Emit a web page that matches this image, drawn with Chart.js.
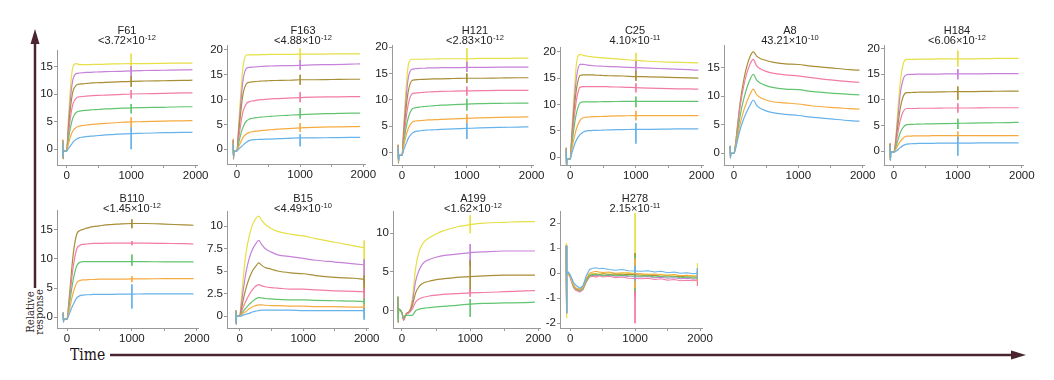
<!DOCTYPE html>
<html><head><meta charset="utf-8">
<script src="https://cdn.jsdelivr.net/npm/chart.js@4.4.0/dist/chart.umd.min.js"></script>
<style>
html,body{margin:0;padding:0;background:#fff;width:1054px;height:380px;overflow:hidden;position:relative;font-family:'Liberation Sans',Arial,sans-serif}
canvas{position:absolute}
#time{position:absolute;left:70px;top:344px;font:17px 'DejaVu Serif',serif;line-height:20px;color:#1e1216;transform:scaleX(0.82);transform-origin:left center}
#rel{position:absolute;left:5px;top:303px;width:60px;height:18px;font:10.5px 'DejaVu Serif',serif;line-height:9px;text-align:center;color:#2e2428;transform:rotate(-90deg) scaleX(0.95)}
</style></head><body>
<svg width="1054" height="380" style="position:absolute;left:0;top:0">
<line x1="35" y1="288" x2="35" y2="42" stroke="#4a2530" stroke-width="2.5"/>
<polygon points="35,29 30.5,44 39.5,44" fill="#4a2530"/>
<line x1="110" y1="355" x2="1013" y2="355" stroke="#4a2530" stroke-width="2.5"/>
<polygon points="1026,355 1011,350.5 1011,359.5" fill="#4a2530"/>
</svg>
<div id="time">Time</div>
<div id="rel">Relative<br>response</div>
<script>
// ---------- data ----------
const T  = [-60,-55,-50,0,25,50,75,100,150,200,250,300,350,400,500,600,800,1000,1200,1500,1800,1950];
const TH = [-60,-55,-50,-25,0,25,50,75,100,125,150,175,200,250,300,350,400,450,500,600,700,800,900,1100,1200,1300,1400,1500,1600,1700,1800,1900,1950];
const X_TICKS = [0,500,1000,1500,2000];
const X_LABELS = [0,1000,2000];
const SPIKE_T = 1000;
const END_T = 1960;

const NAMES = ['F61','F163','H121','C25','A8','H184','B110','B15','A199','H278'];
const KD_BASE = ['<3.72×10','<4.88×10','<2.83×10','4.10×10','43.21×10','<6.06×10','<1.45×10','<4.49×10','<1.62×10','2.15×10'];
const KD_EXP  = ['-12','-12','-12','-11','-10','-12','-12','-10','-12','-11'];

const SEVEN = ['blue','orange','green','pink','brown','purple','yellow'];
const FIVE_LOW = ['blue','orange','green','pink','brown'];
const FIVE_HIGH = ['green','pink','brown','purple','yellow'];

const Y_F61  = [0,5,10,15];
const Y_F163 = [0,5,10,15,20];
const Y_H121 = [0,5,10,15,20];
const Y_C25  = [0,5,10,15,20];
const Y_A8   = [0,5,10,15];
const Y_H184 = [0,5,10,15,20];
const Y_B110 = [0,5,10,15];
const Y_B15  = [0,2.5,5,7.5,10];
const Y_A199 = [0,5,10];
const Y_H278 = [-2,-1,0,1,2];

const F61 = [
 [1.2,-1.5,-0.3,-0.3,0.1,0.5,0.9,1.3,1.8,2.1,2.2,2.3,2.35,2.4,2.5,2.6,2.75,2.85,2.9,3.0,3.05,3.05],
 [1.3,-1.5,-0.3,-0.3,0.9,1.9,2.8,3.4,4.0,4.2,4.3,4.4,4.45,4.5,4.6,4.7,4.85,4.95,5.0,5.1,5.15,5.2],
 [1.4,-1.6,-0.3,-0.3,1.6,3.4,4.8,5.8,6.7,6.9,7.0,7.05,7.1,7.15,7.2,7.3,7.4,7.5,7.55,7.6,7.7,7.7],
 [1.5,-1.6,-0.3,-0.3,2.5,5.0,7.0,8.3,9.3,9.5,9.55,9.6,9.65,9.7,9.75,9.8,9.9,10.0,10.05,10.1,10.2,10.2],
 [1.6,-1.7,-0.3,-0.3,3.2,6.5,9.0,10.6,11.6,11.8,11.85,11.9,11.95,12.0,12.05,12.1,12.2,12.3,12.35,12.4,12.45,12.5],
 [1.7,-1.7,-0.3,-0.3,4.0,8.0,11.0,12.8,13.7,13.8,13.85,13.9,13.9,13.95,14.0,14.05,14.1,14.2,14.25,14.3,14.35,14.4],
 [1.8,-1.8,-0.3,-0.3,5.0,9.8,13.3,15.0,15.5,15.3,15.3,15.3,15.3,15.35,15.35,15.4,15.45,15.5,15.5,15.55,15.6,15.6]
];
const F61_SPIKES = [[4.0,0.0],[5.8,4.0],[8.2,6.5],[10.7,9.2],[13.2,11.3],[15.0,13.0],[17.3,14.0]];

const F163 = [
 [1.0,-1.5,-0.3,-0.3,0.0,0.3,0.6,0.9,1.4,1.8,1.9,1.95,2.0,2.0,2.05,2.1,2.2,2.3,2.3,2.35,2.4,2.4],
 [1.2,-1.6,-0.3,-0.3,0.5,1.2,1.9,2.5,3.1,3.4,3.55,3.65,3.7,3.8,3.9,4.0,4.15,4.3,4.4,4.5,4.55,4.6],
 [1.4,-1.7,-0.3,-0.3,1.2,2.5,3.7,4.6,5.7,6.1,6.25,6.35,6.45,6.5,6.6,6.7,6.85,7.0,7.1,7.2,7.3,7.3],
 [1.6,-1.8,-0.3,-0.3,2.0,4.2,6.3,7.8,9.2,9.6,9.75,9.85,9.95,10.0,10.1,10.2,10.3,10.4,10.5,10.55,10.6,10.6],
 [1.8,-1.9,-0.3,-0.3,3.0,6.2,9.2,11.4,13.2,13.5,13.6,13.65,13.7,13.75,13.8,13.85,13.9,14.0,14.0,14.05,14.1,14.1],
 [2.0,-2.0,-0.3,-0.3,3.8,7.8,11.5,14.3,16.3,16.5,16.55,16.6,16.65,16.7,16.75,16.8,16.85,16.9,17.0,17.05,17.15,17.2],
 [2.2,-2.0,-0.3,-0.3,4.6,9.3,13.8,17.0,19.0,19.0,19.0,19.0,19.05,19.05,19.1,19.1,19.1,19.15,19.15,19.2,19.2,19.2]
];
const F163_SPIKES = [[3.0,0.6],[5.3,3.5],[8.3,6.2],[11.5,9.5],[15.0,13.0],[18.0,16.0],[20.3,17.8]];

const H121 = [
 [1.0,-1.5,-0.5,-0.5,0.5,1.3,2.1,2.8,3.6,4.0,4.1,4.2,4.25,4.3,4.35,4.4,4.5,4.6,4.7,4.8,4.85,4.9],
 [1.1,-1.6,-0.5,-0.5,1.2,2.6,3.8,4.7,5.7,6.0,6.05,6.1,6.15,6.2,6.25,6.3,6.4,6.5,6.6,6.7,6.75,6.8],
 [1.2,-1.7,-0.5,-0.5,1.8,3.8,5.5,6.8,8.2,8.5,8.6,8.7,8.75,8.8,8.9,9.0,9.1,9.2,9.3,9.35,9.4,9.4],
 [1.3,-1.8,-0.5,-0.5,2.6,5.2,7.6,9.4,11.1,11.3,11.35,11.4,11.45,11.5,11.55,11.6,11.65,11.7,11.75,11.8,11.8,11.8],
 [1.4,-1.9,-0.5,-0.5,3.4,6.8,9.8,11.9,13.6,13.8,13.85,13.9,13.9,13.95,14.0,14.0,14.05,14.1,14.1,14.15,14.2,14.2],
 [1.5,-2.0,-0.5,-0.5,4.2,8.4,12.0,14.4,15.8,15.9,15.95,16.0,16.0,16.05,16.05,16.1,16.1,16.15,16.15,16.2,16.2,16.2],
 [1.6,-2.0,-0.5,-0.5,5.0,10.0,14.2,16.8,17.7,17.7,17.7,17.7,17.7,17.75,17.75,17.8,17.8,17.8,17.85,17.85,17.9,17.9]
];
const H121_SPIKES = [[5.6,2.6],[7.3,5.6],[10.2,8.0],[12.5,10.8],[15.0,13.2],[17.2,15.3],[19.8,16.0]];

const C25 = [
 [1.3,-1.5,-0.3,-0.3,0.8,1.8,2.7,3.4,4.3,4.8,5.0,5.05,5.1,5.1,5.15,5.2,5.25,5.3,5.3,5.35,5.4,5.4],
 [1.4,-1.5,-0.3,-0.3,1.5,3.1,4.5,5.6,7.0,7.5,7.6,7.65,7.7,7.7,7.75,7.8,7.85,7.9,7.9,7.9,7.9,7.9],
 [1.5,-1.5,-0.3,-0.3,2.3,4.8,7.0,8.6,10.3,10.5,10.5,10.5,10.5,10.5,10.55,10.55,10.6,10.6,10.6,10.6,10.6,10.6],
 [1.6,-1.5,-0.3,-0.3,3.0,6.2,9.0,11.2,13.3,13.4,13.4,13.4,13.4,13.4,13.4,13.35,13.3,13.2,13.1,13.0,12.95,12.9],
 [1.7,-1.5,-0.3,-0.3,3.6,7.4,10.8,13.3,15.5,15.6,15.6,15.6,15.6,15.55,15.5,15.45,15.4,15.3,15.25,15.15,15.05,15.0],
 [1.8,-1.5,-0.3,-0.3,4.2,8.6,12.6,15.5,17.6,17.6,17.5,17.4,17.35,17.3,17.25,17.2,17.1,17.0,16.9,16.75,16.6,16.5],
 [1.9,-1.5,-0.3,-0.3,5.0,10.2,14.8,18.2,19.5,19.3,19.2,19.1,19.0,18.95,18.85,18.75,18.55,18.35,18.2,18.05,17.95,17.9]
];
const C25_SPIKES = [[6.5,2.6],[8.8,7.0],[11.5,9.5],[14.0,12.3],[16.3,14.5],[18.3,16.2],[19.8,17.0]];

const A8 = [
 [1.3,-0.8,0.0,0.0,0.8,2.0,3.2,4.3,6.0,7.3,8.4,9.3,8.4,7.9,7.4,7.1,6.8,6.6,6.3,6.0,5.7,5.6],
 [1.3,-0.8,0.0,0.0,1.0,2.5,4.0,5.3,7.4,9.0,10.3,11.2,10.3,9.8,9.3,9.0,8.8,8.6,8.3,8.0,7.8,7.7],
 [1.3,-0.8,0.0,0.0,1.3,3.2,5.1,6.8,9.4,11.4,12.9,13.8,12.8,12.3,11.8,11.5,11.2,11.1,10.8,10.5,10.3,10.2],
 [1.3,-0.8,0.0,0.0,1.6,4.0,6.4,8.5,11.7,14.0,15.6,16.4,15.3,14.8,14.3,14.0,13.7,13.5,13.2,12.8,12.5,12.4],
 [1.3,-0.8,0.0,0.0,1.7,4.3,6.9,9.2,12.7,15.2,16.9,17.7,17.0,16.6,16.2,15.9,15.6,15.5,15.2,14.9,14.6,14.5]
];

const H184 = [
 [1.0,-1.8,-0.2,-0.2,-0.1,0.1,0.4,0.7,1.1,1.35,1.4,1.45,1.45,1.5,1.5,1.5,1.55,1.55,1.55,1.6,1.6,1.6],
 [1.1,-1.8,-0.2,-0.2,0.2,0.8,1.4,1.9,2.6,2.9,2.9,2.95,2.95,2.95,2.95,3.0,3.0,3.0,3.0,3.0,3.0,3.0],
 [1.2,-1.8,-0.2,-0.2,0.5,1.6,2.6,3.6,4.7,5.15,5.2,5.2,5.25,5.25,5.3,5.3,5.35,5.4,5.45,5.5,5.55,5.6],
 [1.3,-1.8,-0.2,-0.2,0.9,2.7,4.5,6.0,7.8,8.3,8.3,8.3,8.3,8.35,8.35,8.35,8.4,8.4,8.4,8.45,8.45,8.45],
 [1.4,-1.8,-0.2,-0.2,1.2,3.8,6.2,8.4,10.8,11.4,11.4,11.45,11.45,11.5,11.5,11.5,11.55,11.6,11.6,11.65,11.7,11.7],
 [1.5,-1.8,-0.2,-0.2,1.6,4.9,8.2,11.2,14.2,14.9,14.95,14.95,15.0,15.0,15.0,15.0,15.05,15.05,15.05,15.1,15.1,15.1],
 [1.6,-1.8,-0.2,-0.2,2.0,6.0,10.0,13.5,17.2,17.9,17.9,17.9,17.9,17.95,17.95,17.95,18.0,18.0,18.0,18.05,18.1,18.1]
];
const H184_SPIKES = [[2.8,-0.9],[3.8,2.2],[6.3,4.3],[9.3,7.5],[12.6,10.0],[16.0,14.0],[19.6,16.5]];

const B110 = [
 [0.8,-0.8,-0.3,-0.3,0.3,1.0,1.7,2.3,3.3,3.7,3.8,3.85,3.85,3.9,3.9,3.9,3.95,3.95,4.0,4.0,4.0,4.0],
 [0.8,-0.8,-0.3,-0.3,0.8,2.0,3.3,4.4,5.9,6.3,6.4,6.4,6.45,6.45,6.5,6.5,6.5,6.55,6.55,6.6,6.6,6.6],
 [0.8,-0.8,-0.3,-0.3,1.3,3.2,5.1,6.7,8.8,9.4,9.5,9.5,9.5,9.5,9.5,9.5,9.5,9.5,9.5,9.45,9.45,9.45],
 [0.8,-0.8,-0.3,-0.3,1.8,4.3,6.9,9.0,11.7,12.3,12.45,12.5,12.55,12.6,12.6,12.65,12.65,12.65,12.65,12.6,12.55,12.5],
 [0.8,-0.8,-0.3,-0.3,2.3,5.4,8.6,11.2,14.2,14.8,15.0,15.2,15.35,15.45,15.6,15.75,15.9,16.0,16.0,15.9,15.75,15.7]
];
const B110_SPIKES = [[5.6,1.5],[7.0,6.0],[10.7,8.8],[13.0,12.3],[16.7,15.2]];

const B15 = [
 [0.6,-0.9,0.0,0.0,0.0,0.1,0.15,0.2,0.3,0.45,0.55,0.6,0.65,0.65,0.65,0.65,0.65,0.6,0.6,0.6,0.6,0.6],
 [0.6,-0.9,0.0,0.0,0.1,0.3,0.4,0.5,0.8,1.0,1.15,1.25,1.25,1.2,1.15,1.15,1.1,1.1,1.05,1.05,1.0,1.0],
 [0.6,-0.9,0.0,0.0,0.2,0.5,0.7,0.9,1.3,1.6,1.9,2.05,2.0,1.95,1.9,1.85,1.8,1.8,1.75,1.7,1.65,1.6],
 [0.6,-0.9,0.0,0.0,0.4,0.9,1.3,1.7,2.4,2.9,3.3,3.5,3.35,3.25,3.15,3.1,3.0,3.0,2.9,2.8,2.75,2.7],
 [0.6,-0.9,0.0,0.0,0.7,1.6,2.4,3.1,4.2,5.0,5.5,5.9,5.6,5.4,5.2,5.0,4.8,4.7,4.5,4.3,4.2,4.1],
 [0.6,-0.9,0.0,0.0,1.2,2.6,3.8,4.9,6.4,7.4,8.0,8.4,7.9,7.5,7.1,6.8,6.6,6.4,6.2,6.0,5.8,5.7],
 [0.6,-0.9,0.0,0.0,1.8,3.8,5.6,7.0,8.9,10.1,10.8,11.1,10.6,10.2,9.7,9.4,9.1,8.9,8.6,8.2,7.8,7.6]
];
const B15_END = [[0.9,-0.4],[1.3,0.4],[2.0,0.8],[3.1,1.6],[4.5,2.5],[6.3,3.5],[8.4,-0.1]];

const A199 = [
 [1.8,-1.5,0.2,-0.3,-1.0,-0.6,-0.6,-0.6,-0.6,0.0,0.2,0.3,0.35,0.4,0.5,0.55,0.7,0.85,0.95,1.0,1.05,1.1],
 [1.8,-1.5,0.2,-0.3,-1.2,-0.6,-0.4,-0.3,0.2,1.1,1.5,1.7,1.8,1.9,2.0,2.1,2.2,2.3,2.35,2.45,2.55,2.6],
 [1.8,-1.5,0.2,-0.3,-1.2,-0.6,-0.3,-0.2,0.6,2.3,3.1,3.5,3.7,3.8,4.0,4.1,4.3,4.4,4.5,4.6,4.6,4.6],
 [1.8,-1.5,0.2,-0.3,-1.2,-0.6,-0.3,-0.2,1.0,3.8,5.2,6.0,6.4,6.6,6.9,7.1,7.3,7.5,7.6,7.7,7.7,7.7],
 [1.8,-1.5,0.2,-0.3,-1.2,-0.6,-0.3,-0.2,1.5,5.5,7.6,8.6,9.1,9.4,9.9,10.3,10.8,11.1,11.3,11.4,11.5,11.5]
];
const A199_SPIKES = [[1.5,-0.8],[2.8,1.8],[6.5,2.3],[8.6,5.8],[12.3,10.0]];

const H278 = [
 [1.1,-1.6,0.0,0.05,-0.05,-0.2,-0.35,-0.45,-0.5,-0.55,-0.6,-0.55,-0.5,-0.1,0.15,0.2,0.22,0.18,0.2,0.15,0.12,0.15,0.1,0.08,0.1,0.05,0.08,0.02,0.05,0.0,0.02,-0.02,0.0],
 [1.1,-1.6,0.0,-0.05,-0.1,-0.3,-0.45,-0.55,-0.6,-0.62,-0.65,-0.6,-0.55,-0.2,0.0,0.05,0.08,0.05,0.03,0.05,0.0,0.02,0.0,-0.02,-0.05,-0.03,-0.06,-0.08,-0.05,-0.1,-0.08,-0.12,-0.1],
 [1.1,-1.6,0.0,0.0,-0.1,-0.3,-0.5,-0.6,-0.62,-0.65,-0.7,-0.65,-0.6,-0.3,-0.1,-0.05,-0.08,-0.05,-0.1,-0.06,-0.1,-0.08,-0.1,-0.12,-0.1,-0.15,-0.12,-0.15,-0.13,-0.18,-0.15,-0.2,-0.18],
 [1.1,-1.6,0.0,-0.05,-0.15,-0.35,-0.55,-0.65,-0.7,-0.72,-0.75,-0.7,-0.65,-0.35,-0.15,-0.12,-0.15,-0.1,-0.15,-0.12,-0.18,-0.15,-0.2,-0.22,-0.2,-0.25,-0.22,-0.28,-0.25,-0.3,-0.28,-0.3,-0.28],
 [1.1,-1.6,0.0,0.0,-0.1,-0.3,-0.5,-0.6,-0.65,-0.68,-0.7,-0.62,-0.55,-0.25,-0.08,-0.05,-0.03,-0.06,-0.02,-0.05,-0.03,-0.06,-0.04,-0.08,-0.1,-0.08,-0.12,-0.1,-0.13,-0.12,-0.15,-0.14,-0.15],
 [1.1,-1.6,0.0,-0.02,-0.12,-0.32,-0.5,-0.6,-0.65,-0.66,-0.68,-0.62,-0.56,-0.28,-0.12,-0.08,-0.1,-0.07,-0.1,-0.08,-0.12,-0.1,-0.13,-0.15,-0.13,-0.18,-0.16,-0.2,-0.18,-0.22,-0.2,-0.24,-0.22],
 [1.2,-1.8,0.1,0.0,-0.1,-0.3,-0.48,-0.58,-0.62,-0.64,-0.66,-0.58,-0.5,-0.2,-0.05,0.0,-0.02,0.02,-0.01,0.02,-0.02,0.0,0.03,-0.05,-0.03,-0.06,-0.04,-0.08,-0.06,-0.1,-0.08,-0.1,-0.12]
];
const H278_SPIKES = [[0.3,-0.3],[0.6,-0.6],[0.7,-0.7],[0.5,-2.0],[0.8,-0.8],[0.6,-0.9],[2.4,-1.0]];
const H278_END = [[0.2,-0.2],[0.2,-0.3],[0.1,-0.3],[0.1,-0.5],[0.2,-0.3],[0.1,-0.4],[0.4,-0.5]];

// ---------- styles & layout ----------
const COLORS = {blue:'#66b2ea', orange:'#f6ab42', green:'#62c470', pink:'#f27ca5', brown:'#a88e36', purple:'#c582d8', yellow:'#e6df45'};
const LAYOUT = {
 F61:  {left:56.7, right:197.6, top:50, bottom:165, xMin:-150, yMin:-2.84, yMax:17.96, row:0, titleX:127},
 F163: {left:226.7,right:365.2, top:45, bottom:164, xMin:-158, yMin:-2.96, yMax:21.0,  row:0, titleX:303},
 H121: {left:392.3,right:533.6, top:45, bottom:165, xMin:-155, yMin:-2.33, yMax:20.4,  row:0, titleX:475},
 C25:  {left:559.8,right:703.6, top:47, bottom:165, xMin:-155, yMin:-1.46, yMax:20.9,  row:0, titleX:635},
 A8:   {left:724.0,right:864.6, top:45, bottom:165, xMin:-155, yMin:-2.04, yMax:18.9,  row:0, titleX:790},
 H184: {left:884.4,right:1023.7,top:45, bottom:165, xMin:-155, yMin:-2.73, yMax:20.7,  row:0, titleX:957},
 B110: {left:56.6, right:198.7, top:210,bottom:328, xMin:-155, yMin:-1.82, yMax:18.3,  row:1, titleX:132},
 B15:  {left:227.3,right:368.6, top:211,bottom:328, xMin:-200, yMin:-1.33, yMax:11.67, row:1, titleX:303},
 A199: {left:393.3,right:540.4, top:211,bottom:328, xMin:-132, yMin:-2.23, yMax:12.86, row:1, titleX:473},
 H278: {left:559.9,right:702.0, top:211,bottom:328, xMin:-155, yMin:-2.19, yMax:2.49,  row:1, titleX:635}
};
const ROW_TOP = [24, 192];

const PANEL_DATA = {
 F61:  {t:T,  keys:SEVEN,     vals:F61,  spikes:F61_SPIKES,  end:null,     yTicks:Y_F61},
 F163: {t:T,  keys:SEVEN,     vals:F163, spikes:F163_SPIKES, end:null,     yTicks:Y_F163},
 H121: {t:T,  keys:SEVEN,     vals:H121, spikes:H121_SPIKES, end:null,     yTicks:Y_H121},
 C25:  {t:T,  keys:SEVEN,     vals:C25,  spikes:C25_SPIKES,  end:null,     yTicks:Y_C25},
 A8:   {t:T,  keys:FIVE_LOW,  vals:A8,   spikes:null,        end:null,     yTicks:Y_A8},
 H184: {t:T,  keys:SEVEN,     vals:H184, spikes:H184_SPIKES, end:null,     yTicks:Y_H184},
 B110: {t:T,  keys:FIVE_LOW,  vals:B110, spikes:B110_SPIKES, end:null,     yTicks:Y_B110},
 B15:  {t:T,  keys:SEVEN,     vals:B15,  spikes:null,        end:B15_END,  yTicks:Y_B15},
 A199: {t:T,  keys:FIVE_HIGH, vals:A199, spikes:A199_SPIKES, end:null,     yTicks:Y_A199},
 H278: {t:TH, keys:SEVEN,     vals:H278, spikes:H278_SPIKES, end:H278_END, yTicks:Y_H278}
};

Chart.defaults.font.family = "'Liberation Sans', Arial, sans-serif";
Chart.defaults.font.size = 11;
Chart.defaults.color = '#222';

const titlePlugin = {
  id: 'panelTitle',
  afterDraw(chart, args, opts) {
    const ctx = chart.ctx;
    ctx.save();
    const mainFont = "11px 'Liberation Sans', Arial, sans-serif";
    const supFont = "7.5px 'Liberation Sans', Arial, sans-serif";
    ctx.fillStyle = '#222';
    ctx.textBaseline = 'alphabetic';
    ctx.font = mainFont;
    ctx.textAlign = 'center';
    ctx.fillText(opts.l1, opts.x, 10);
    ctx.textAlign = 'left';
    const wb = ctx.measureText(opts.base).width;
    ctx.font = supFont;
    const we = ctx.measureText(opts.exp).width;
    const x0 = opts.x - (wb + we + 0.5) / 2;
    ctx.font = mainFont;
    ctx.fillText(opts.base, x0, 19.5);
    ctx.font = supFont;
    ctx.fillText(opts.exp, x0 + wb + 0.5, 15.5);
    ctx.restore();
  }
};

const YW = 30, XH = 22, PR = 16;

NAMES.forEach((name, pi) => {
  const L = LAYOUT[name], P = PANEL_DATA[name];
  const rowTop = ROW_TOP[L.row];
  const cl = Math.round(L.left - YW);
  const w = Math.round(L.right + PR) - cl;
  const h = Math.round(L.bottom + XH) - rowTop;
  const cv = document.createElement('canvas');
  cv.width = w; cv.height = h;
  cv.style.left = cl + 'px'; cv.style.top = rowTop + 'px';
  cv.style.width = w + 'px'; cv.style.height = h + 'px';
  document.body.appendChild(cv);

  const datasets = [];
  P.keys.forEach((k, i) => {
    datasets.push({
      data: P.t.map((x, j) => ({x: x, y: P.vals[i][j]})),
      borderColor: COLORS[k], borderWidth: 1.2, pointRadius: 0,
      cubicInterpolationMode: name === 'H278' ? 'default' : 'monotone',
      tension: name === 'H278' ? 0 : 0.4, fill: false
    });
  });
  const addSpikes = (arr, xt) => {
    if (!arr) return;
    arr.forEach((s, i) => {
      datasets.push({
        data: [{x: xt, y: s[0]}, {x: xt, y: s[1]}],
        borderColor: COLORS[P.keys[i]], borderWidth: 1, pointRadius: 0, tension: 0, fill: false
      });
    });
  };
  addSpikes(P.spikes, SPIKE_T);
  addSpikes(P.end, END_T);

  const yTicks = P.yTicks;
  new Chart(cv, {
    type: 'line',
    data: {datasets},
    options: {
      responsive: false, animation: false, events: [],
      layout: {autoPadding: false, padding: {top: L.top - rowTop, left: 0, bottom: 0, right: w - (L.right - cl)}},
      plugins: {
        legend: {display: false}, tooltip: {enabled: false}, title: {display: false},
        panelTitle: {l1: name, base: KD_BASE[pi], exp: KD_EXP[pi], x: L.titleX - cl}
      },
      scales: {
        x: {
          type: 'linear', min: L.xMin, max: 2030,
          afterBuildTicks: s => { s.ticks = X_TICKS.map(v => ({value: v})); },
          afterFit: s => { s.height = XH; s.paddingLeft = 0; s.paddingRight = 0; },
          ticks: {autoSkip: false, maxRotation: 0, padding: 1, color: '#222', font: {size: 11.5},
                  callback: v => X_LABELS.includes(v) ? String(v) : ''},
          grid: {display: true, drawOnChartArea: false, drawTicks: true, tickLength: 3, color: '#999'},
          border: {display: true, color: '#999', width: 1}
        },
        y: {
          type: 'linear', min: L.yMin, max: L.yMax,
          afterBuildTicks: s => { s.ticks = yTicks.map(v => ({value: v})); },
          afterFit: s => { s.width = YW; s.paddingTop = 0; s.paddingBottom = 0; },
          ticks: {autoSkip: false, padding: 1, color: '#222', font: {size: 11.5}, callback: v => String(v)},
          grid: {display: true, drawOnChartArea: false, drawTicks: true, tickLength: 3, color: '#999'},
          border: {display: true, color: '#999', width: 1}
        }
      }
    },
    plugins: [titlePlugin]
  });
});
</script>
</body></html>
